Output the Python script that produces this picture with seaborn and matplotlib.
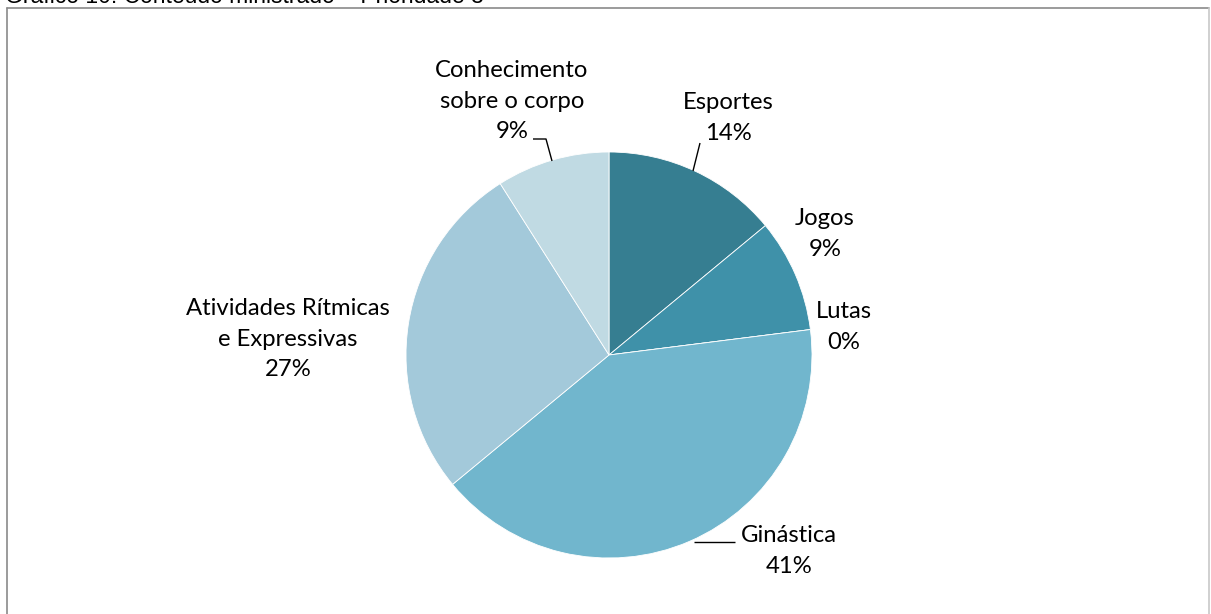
import matplotlib
matplotlib.use("Agg")
import matplotlib.pyplot as plt
from matplotlib.lines import Line2D
import seaborn as sns

# Conteúdo ministrado – prioridade 3 (percentuais)
categorias = ["Esportes", "Jogos", "Lutas", "Ginástica",
              "Atividades Rítmicas\ne Expressivas", "Conhecimento\nsobre o corpo"]
percentuais = [14, 9, 0, 41, 27, 9]
cores = ["#367E91", "#3F91A9", "#5AA5BE", "#71B6CD", "#A3C9DA", "#C0DAE3"]
titulo = "Gráfico 10: Conteúdo ministrado – Prioridade 3"

sns.set_theme(style="white")
plt.rcParams["font.family"] = ["Lato", "DejaVu Sans"]

W, H = 1211, 614
fig = plt.figure(figsize=(W / 100, H / 100), dpi=100)
fig.patch.set_facecolor("white")

# axes in pixel units (y measured upward)
ax = fig.add_axes([0, 0, 1, 1])
cx, cy, r = 609, H - 355, 203
ax.pie(percentuais, colors=cores, startangle=90, counterclock=False,
       center=(cx, cy), radius=r, frame=True,
       wedgeprops=dict(edgecolor="white", linewidth=0.6))
ax.set_xlim(0, W)
ax.set_ylim(0, H)
ax.set_aspect("auto")
ax.axis("off")

fs = 17.2
lab_pos = {
    "Esportes": (728, 118),
    "Jogos": (825, 234),
    "Lutas": (844, 327),
    "Ginástica": (789, 551),
    "Atividades Rítmicas\ne Expressivas": (288, 339),
    "Conhecimento\nsobre o corpo": (512, 101),
}
for cat, val in zip(categorias, percentuais):
    x, y = lab_pos[cat]
    ax.text(x, H - y, f"{cat}\n{val}%", ha="center", va="center",
            fontsize=fs, color="#000000", linespacing=1.56)

# leader lines
leaders = [
    [(533, 139), (546, 139), (552, 161)],
    [(700, 143), (693, 171)],
    [(735, 542), (694, 542)],
]
for pts in leaders:
    ax.plot([p[0] for p in pts], [H - p[1] for p in pts],
            color="#000000", lw=1.0, solid_capstyle="butt")

# chart frame
def fig_line(x0, y0, x1, y1, c):
    fig.add_artist(Line2D([x0 / W, x1 / W], [1 - y0 / H, 1 - y1 / H],
                          transform=fig.transFigure, color=c, lw=1.2))

fig_line(7, 8, 1209, 8, "#8A8A8A")
fig_line(7, 8, 7, H + 5, "#8A8A8A")
fig_line(1209, 8, 1209, H + 5, "#C8C8C8")

fig.text(5 / W, 1 - 3 / H, titulo, ha="left", va="baseline",
         fontsize=16.5, family=["Liberation Sans", "DejaVu Sans"], color="#000000")

fig.savefig("out.png", dpi=100, facecolor="white")
